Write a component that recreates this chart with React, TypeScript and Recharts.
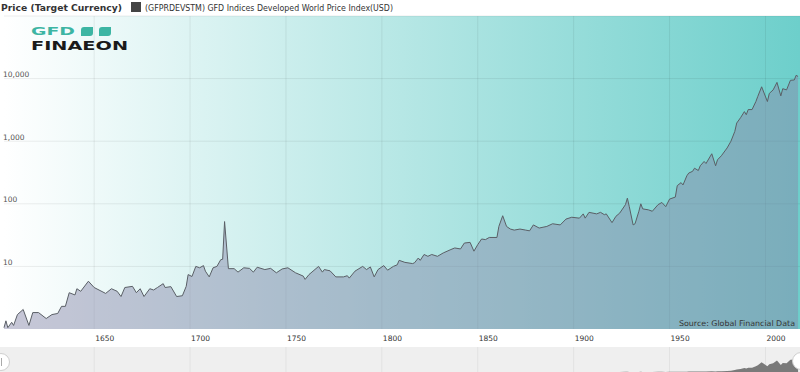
import React from "react";
import { AreaChart, Area, XAxis, YAxis, CartesianGrid } from "recharts";

const years: number[] = [
  1603, 1604, 1605, 1607, 1608, 1610, 1613, 1616, 1618, 1621, 1625, 1628, 1631, 1633, 1635, 1637, 1640, 1641, 1643, 1647,
  1650, 1656, 1659, 1662, 1664, 1666, 1670, 1672, 1674, 1676, 1679, 1681, 1683, 1686, 1687, 1690, 1693, 1696, 1698, 1699,
  1701, 1703, 1705, 1707, 1708, 1710, 1712, 1714, 1716, 1717, 1718, 1720, 1723, 1725, 1728, 1731, 1733, 1735, 1739, 1742,
  1745, 1748, 1751, 1755, 1759, 1760, 1762, 1767, 1769, 1770, 1773, 1776, 1780, 1782, 1783, 1786, 1790, 1792, 1794, 1796,
  1798, 1801, 1803, 1806, 1808, 1809, 1812, 1816, 1817, 1819, 1820, 1822, 1824, 1826, 1829, 1832, 1836, 1838, 1841, 1843,
  1846, 1848, 1850, 1852, 1854, 1856, 1860, 1861, 1863, 1865, 1867, 1869, 1872, 1875, 1877, 1879, 1882, 1886, 1889, 1893,
  1896, 1899, 1903, 1905, 1906, 1908, 1912, 1914, 1916, 1917, 1920, 1922, 1924, 1927, 1928, 1929, 1931, 1932, 1934, 1935,
  1936, 1939, 1941, 1944, 1946, 1948, 1950, 1953, 1954, 1956, 1957, 1959, 1960, 1962, 1963, 1965, 1966, 1968, 1969, 1972,
  1974, 1975, 1977, 1980, 1982, 1984, 1985, 1987, 1989, 1990, 1991, 1993, 1995, 1996, 1998, 2001, 2002, 2004, 2006, 2008,
  2009, 2011, 2013, 2015, 2016, 2017,
];

const prices: number[] = [
  1.05, 1.35, 1.05, 1.28, 1.14, 1.7, 2.05, 1.14, 1.83, 1.83, 1.47, 1.7, 1.77, 2.3, 2.3, 3.8, 3.5, 4.4, 4.0, 5.8,
  4.6, 3.7, 4.4, 4.0, 3.3, 4.6, 4.8, 3.8, 4.4, 3.3, 4.4, 4.2, 4.6, 5.3, 4.6, 4.75, 3.3, 3.4, 4.8, 7.4,
  6.9, 10, 9.5, 10.3, 8.4, 6.8, 9.5, 10, 12.8, 13, 52, 9.2, 9.2, 8.1, 9.5, 9.3, 8.1, 9.7, 8.9, 9.3,
  7.9, 9.1, 9.5, 7.9, 7.0, 6.2, 7.4, 10, 8.1, 8.9, 8.5, 6.8, 6.8, 7.1, 6.5, 8.4, 10, 8.9, 9.8, 6.8,
  8.9, 10.3, 8.7, 10, 10.6, 12.5, 11.6, 11.1, 11.4, 13.6, 12.5, 15.5, 14.5, 15.5, 14.5, 16.4, 18.6, 19.7, 19, 23.6,
  24.2, 17.5, 22.3, 27.4, 26.8, 29, 29, 43.5, 64.5, 43.5, 39.5, 38, 39.5, 38, 37, 46, 41, 43.5, 48, 46,
  57, 61, 59, 69, 59, 73, 69, 73, 67, 69, 50, 63, 71, 97, 123, 90, 46, 48, 76, 100,
  83, 80, 76, 97, 105, 90, 119, 128, 195, 218, 200, 280, 310, 330, 370, 340, 405, 475, 440, 630,
  405, 505, 585, 780, 1000, 1430, 1950, 2370, 2970, 2650, 3200, 3200, 4300, 5200, 7400, 4300, 5800, 6600, 8700, 5300,
  6900, 6600, 9400, 9500, 11300, 10800,
];

const xTicks: number[] = [1650, 1700, 1750, 1800, 1850, 1900, 1950, 2000];
const yTicks: number[] = [10, 100, 1000, 10000, 100000];
const yLabelTicks: number[] = [10, 100, 1000, 10000];

const legendTitle = "Price (Target Currency)";
const seriesName = "(GFPRDEVSTM) GFD Indices Developed World Price Index(USD)";
const sourceText = "Source: Global Financial Data";

const data = years.map((y, i) => ({ year: y, value: prices[i] }));

const FONT = "'DejaVu Sans', Verdana, sans-serif";

const fmt = (v: number) => v.toLocaleString("en-US");

const MainXTick = (props: any) => {
  const { x, payload } = props;
  return (
    <text x={x + 1} y={341} fontSize={7.5} fill="#333" fontFamily={FONT} textAnchor="start">
      {payload.value}
    </text>
  );
};

const NavXTick = (props: any) => {
  const { x, payload } = props;
  return (
    <text x={x + 1} y={23} fontSize={7.5} fill="#333" fontFamily={FONT} textAnchor="start">
      {payload.value}
    </text>
  );
};

const YTick = (props: any) => {
  const { y, payload } = props;
  const v = Number(payload && payload.value);
  if (!yLabelTicks.some((t) => Math.abs(t - v) < 1e-6 * t)) return <g />;
  return (
    <text x={3} y={y - 1.5} fontSize={7.5} fill="#555" fontFamily={FONT} textAnchor="start">
      {fmt(v)}
    </text>
  );
};

export default function App() {
  return (
    <div
      style={{
        position: "absolute",
        left: 0,
        top: 0,
        width: 800,
        height: 372,
        background: "#fff",
        overflow: "hidden",
        fontFamily: FONT,
      }}
    >
      <svg width={0} height={0} style={{ position: "absolute" }}>
        <defs>
          <linearGradient id="plotBg" x1="0" y1="0" x2="1" y2="0">
            <stop offset="0%" stopColor="#ffffff" />
            <stop offset="100%" stopColor="#6dcfcb" />
          </linearGradient>
        </defs>
      </svg>

      <div style={{ position: "absolute", left: 0, top: 0 }}>
        <AreaChart width={800} height={347} data={data} margin={{ top: 16, right: 0, left: 4, bottom: 0 }}>
          <CartesianGrid
            fill="url(#plotBg)"
            fillOpacity={1}
            stroke="#000"
            strokeOpacity={0.07}
            horizontalValues={yTicks}
            verticalValues={xTicks}
          />
          <XAxis
            dataKey="year"
            type="number"
            domain={[1603, 2018]}
            ticks={xTicks}
            height={18}
            axisLine={false}
            tickLine={false}
            tick={<MainXTick />}
            interval={0}
          />
          <Area
            type="linear"
            dataKey="value"
            stroke="#5a5f66"
            strokeWidth={1}
            fill="#8989ab"
            fillOpacity={0.47}
            baseValue={1}
            dot={false}
            activeDot={false}
            isAnimationActive={false}
          />
          <YAxis
            scale="log"
            domain={[1, 100000]}
            ticks={yTicks}
            allowDataOverflow
            mirror
            axisLine={false}
            tickLine={false}
            tick={<YTick />}
            interval={0}
          />
        </AreaChart>
      </div>

      <div style={{ position: "absolute", left: 0, top: 347, width: 800, height: 25, background: "#efefef" }}>
        <AreaChart width={800} height={25} data={data} margin={{ top: 0, right: 0, left: 4, bottom: 0 }}>
          <CartesianGrid stroke="#e2e2e2" horizontal={false} verticalValues={xTicks} />
          <YAxis hide domain={[0, 19000]} />
          <Area
            type="linear"
            dataKey="value"
            stroke="none"
            fill="#7a7a7a"
            fillOpacity={1}
            dot={false}
            activeDot={false}
            isAnimationActive={false}
          />
          <XAxis
            dataKey="year"
            type="number"
            domain={[1603, 2018]}
            ticks={xTicks}
            height={0}
            axisLine={false}
            tickLine={false}
            tick={<NavXTick />}
            interval={0}
          />
        </AreaChart>
      </div>

      <svg width={800} height={372} style={{ position: "absolute", left: 0, top: 0, pointerEvents: "none" }}>
        <text x={1} y={11} fontSize={9.3} fontWeight="bold" fill="#333" fontFamily={FONT} textLength={121} lengthAdjust="spacingAndGlyphs">
          {legendTitle}
        </text>
        <rect x={131} y={2} width={10} height={10} fill="#444" />
        <text x={145} y={11} fontSize={8.8} fill="#333" fontFamily={FONT} textLength={248} lengthAdjust="spacingAndGlyphs">
          {seriesName}
        </text>

        <text x={31} y={35} fontSize={10} fontWeight="bold" fill="#3db5a3" fontFamily={FONT} textLength={44} lengthAdjust="spacingAndGlyphs">
          GFD
        </text>
        <path d="M84 27 L96 27 L96 33 Q96 36 93 36 L84 36 L84 30 Q84 27 87 27 Z" fill="#3db5a3" transform="translate(-3 0)" />
        <path d="M84 27 L96 27 L96 33 Q96 36 93 36 L84 36 L84 30 Q84 27 87 27 Z" fill="#3db5a3" transform="translate(15 0)" />
        <text x={31} y={49.5} fontSize={12.5} fontWeight="bold" fill="#1a1a1a" fontFamily={FONT} textLength={97} lengthAdjust="spacingAndGlyphs">
          FINAEON
        </text>

        <text x={795} y={326} fontSize={7.8} fill="#333" fontFamily={FONT} textAnchor="end" textLength={116} lengthAdjust="spacingAndGlyphs">
          {sourceText}
        </text>

        <circle cx={1} cy={362} r={8.5} fill="#fff" stroke="#cfcfcf" strokeWidth={1} />
        <line x1={1.5} y1={358} x2={1.5} y2={366} stroke="#aaa" strokeWidth={1} />
        <circle cx={801} cy={361} r={8.5} fill="#fff" stroke="#cfcfcf" strokeWidth={1} />
      </svg>
    </div>
  );
}
